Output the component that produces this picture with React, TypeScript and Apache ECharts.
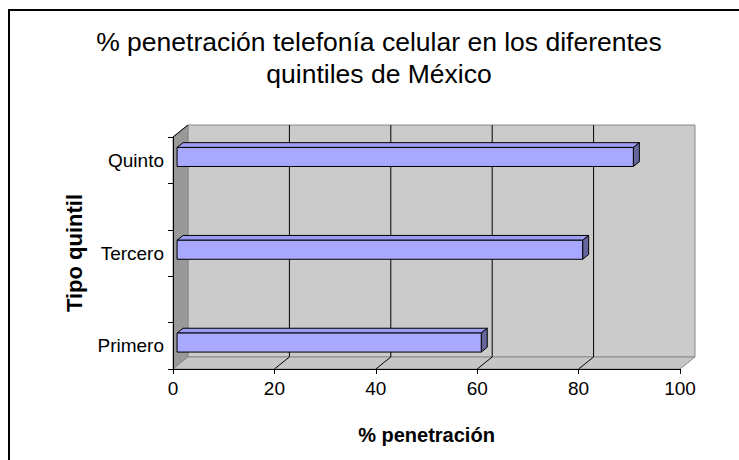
import React, { useEffect, useRef } from "react";
import * as echarts from "echarts";

const titleLines = ["% penetración telefonía celular en los diferentes", "quintiles de México"];
const categories = ["Primero", "", "Tercero", "", "Quinto"];
const values: (number | null)[] = [60, null, 80, null, 90];
const xTicks = { min: 0, max: 100, interval: 20 };
const gridTicks = [20, 40, 60, 80];
const xTitle = "% penetración";
const yTitle = "Tipo quintil";

const FONT = "'Liberation Sans', Arial, sans-serif";
const DX = 15;
const DY = -12;

export default function App() {
  const ref = useRef<HTMLDivElement>(null);
  useEffect(() => {
    if (!ref.current) return;
    const chart = echarts.init(ref.current, undefined, { renderer: "svg" });

    const wallsRender = (params: any, api: any) => {
      const cs = params.coordSys;
      const x = cs.x, y = cs.y, w = cs.width, h = cs.height;
      return {
        type: "group",
        children: [
          {
            type: "rect",
            shape: { x: x + DX, y: y + DY, width: w, height: h },
            style: { fill: "#cbcbcb", stroke: "#8a8a8a", lineWidth: 1 },
          },
          {
            type: "polygon",
            shape: { points: [[x, y], [x + DX, y + DY], [x + DX, y + h + DY], [x, y + h]] },
            style: { fill: "#999999", stroke: "#8a8a8a", lineWidth: 1 },
          },
          {
            type: "polygon",
            shape: { points: [[x, y + h], [x + DX, y + h + DY], [x + w + DX, y + h + DY], [x + w, y + h]] },
            style: { fill: "#c6c6c6", stroke: "#8a8a8a", lineWidth: 1 },
          },
          {
            type: "line",
            shape: { x1: x, y1: y, x2: x + DX, y2: y + DY },
            style: { stroke: "#000", lineWidth: 1 },
          },
        ],
      };
    };

    const gridRender = (params: any, api: any) => {
      const cs = params.coordSys;
      const px = api.coord([api.value(0), 0])[0];
      const top = cs.y, bottom = cs.y + cs.height;
      return {
        type: "group",
        children: [
          {
            type: "line",
            shape: { x1: px + DX, y1: top + DY, x2: px + DX, y2: bottom + DY },
            style: { stroke: "#000", lineWidth: 1 },
          },
          {
            type: "line",
            shape: { x1: px, y1: bottom, x2: px + DX, y2: bottom + DY },
            style: { stroke: "#000", lineWidth: 1 },
          },
        ],
      };
    };

    const F0 = 0.27;
    const F1 = 0.67;
    const barRender = (params: any, api: any) => {
      const v = api.value(0);
      const ci = api.value(1);
      const start = api.coord([0, ci]);
      const end = api.coord([v, ci]);
      const band = api.size([0, 1])[1];
      const bh = band * 0.41;
      const ox = DX * F0, oy = DY * F0;
      const dx = DX * (F1 - F0), dy = DY * (F1 - F0);
      const x0 = start[0] + ox;
      const x1 = end[0] + ox;
      const yc = start[1] + oy;
      const t = yc - bh / 2;
      const b = yc + bh / 2;
      const stroke = { stroke: "#000", lineWidth: 1 };
      return {
        type: "group",
        children: [
          {
            type: "polygon",
            shape: { points: [[x0, t], [x0 + dx, t + dy], [x1 + dx, t + dy], [x1, t]] },
            style: { fill: "#9c9cf2", ...stroke },
          },
          {
            type: "polygon",
            shape: { points: [[x1, t], [x1 + dx, t + dy], [x1 + dx, b + dy], [x1, b]] },
            style: { fill: "#66669c", ...stroke },
          },
          {
            type: "rect",
            shape: { x: x0, y: t, width: x1 - x0, height: bh },
            style: { fill: "#a8a8ff", ...stroke },
          },
        ],
      };
    };

    const barData = values
      .map((v, i) => (v == null ? null : [v, i]))
      .filter((d) => d !== null);

    chart.setOption({
      animation: false,
      backgroundColor: "#ffffff",
      title: {
        text: titleLines.join("\n"),
        left: 379,
        top: 26,
        padding: 0,
        textAlign: "center",
        textStyle: {
          fontFamily: FONT,
          fontSize: 26.5,
          fontWeight: "normal",
          color: "#000",
          lineHeight: 32,
        },
      },
      graphic: [
        {
          type: "rect",
          shape: { x: 9, y: 10, width: 760, height: 480 },
          style: { fill: "none", stroke: "#000", lineWidth: 2 },
          silent: true,
        },
      ],
      grid: { left: 173, top: 137, width: 507, height: 232 },
      xAxis: {
        type: "value",
        min: xTicks.min,
        max: xTicks.max,
        interval: xTicks.interval,
        z: 10,
        axisLine: { show: true, lineStyle: { color: "#000", width: 1 } },
        axisTick: { show: true, length: 5, lineStyle: { color: "#000" } },
        splitLine: { show: false },
        axisLabel: { color: "#000", fontSize: 19, fontFamily: FONT, margin: 10 },
        name: xTitle,
        nameLocation: "middle",
        nameGap: 56,
        nameTextStyle: { color: "#000", fontSize: 20, fontWeight: "bold", fontFamily: FONT },
      },
      yAxis: {
        type: "category",
        data: categories,
        z: 10,
        axisLine: { show: true, lineStyle: { color: "#000", width: 1 } },
        axisTick: { show: true, length: 5, interval: 0, lineStyle: { color: "#000" } },
        axisLabel: {
          color: "#000",
          fontSize: 19,
          fontFamily: FONT,
          margin: 9,
          interval: 0,
          padding: [0, 0, 8, 0],
        },
        name: yTitle,
        nameLocation: "middle",
        nameRotate: 90,
        nameGap: 88,
        nameTextStyle: { color: "#000", fontSize: 22, fontWeight: "bold", fontFamily: FONT },
      },
      series: [
        {
          type: "custom",
          name: "walls",
          z: 1,
          silent: true,
          renderItem: wallsRender,
          data: [[0, 0]],
        },
        {
          type: "custom",
          name: "grid",
          z: 2,
          silent: true,
          renderItem: gridRender,
          data: gridTicks.map((t) => [t, 0]),
        },
        {
          type: "custom",
          name: "% penetración",
          z: 3,
          renderItem: barRender,
          encode: { x: 0, y: 1 },
          data: barData,
        },
      ],
    });
    return () => chart.dispose();
  }, []);
  return (
    <div
      ref={ref}
      style={{ position: "absolute", left: 0, top: 0, width: 739, height: 460 }}
    />
  );
}
